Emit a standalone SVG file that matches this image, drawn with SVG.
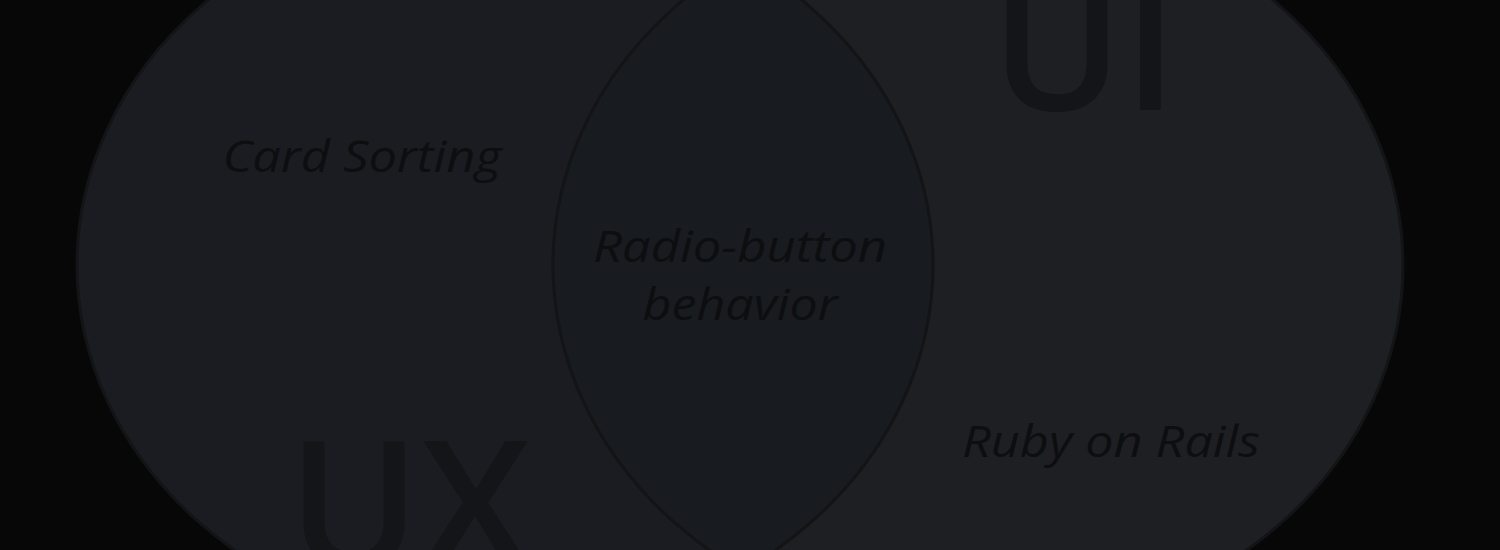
<svg xmlns="http://www.w3.org/2000/svg" width="1500" height="550" viewBox="0 0 1500 550">
  <style>
    .edge { fill: none; stroke: #131416; stroke-width: 3; }
    .big { font-family: "Open Sans", "Liberation Sans", sans-serif; font-size: 178px; font-weight: 600; fill: #141518; }
    .lbl { font-family: "Open Sans", "Liberation Sans", sans-serif; font-size: 43px; font-style: italic; fill: #0d0e10; text-anchor: middle; }
  </style>
  <defs>
    <clipPath id="clipLeft">
      <ellipse cx="505" cy="265" rx="428" ry="368"/>
    </clipPath>
  </defs>
  <rect x="0" y="0" width="1500" height="550" fill="#070707"/>
  <g id="ux">
    <ellipse cx="505" cy="265" rx="428" ry="368" fill="#1a1c21"/>
  </g>
  <g id="ui">
    <ellipse cx="978" cy="265" rx="425" ry="368" fill="#1e1f22"/>
  </g>
  <g id="overlap">
    <ellipse cx="978" cy="265" rx="425" ry="368" fill="#181b1f" clip-path="url(#clipLeft)"/>
  </g>
  <g id="outlines">
    <ellipse class="edge" cx="505" cy="265" rx="428" ry="368"/>
    <ellipse class="edge" cx="978" cy="265" rx="425" ry="368"/>
  </g>
  <g id="labels">
    <text class="big" x="288" y="568">UX</text>
    <text class="big" x="991" y="110">UI</text>
    <text class="lbl" x="362" y="172" textLength="279" lengthAdjust="spacingAndGlyphs">Card Sorting</text>
    <text class="lbl" x="740" y="262" textLength="294" lengthAdjust="spacingAndGlyphs">Radio-button</text>
    <text class="lbl" x="740" y="320" textLength="195" lengthAdjust="spacingAndGlyphs">behavior</text>
    <text class="lbl" x="1111" y="457" textLength="298" lengthAdjust="spacingAndGlyphs">Ruby on Rails</text>
  </g>
</svg>
